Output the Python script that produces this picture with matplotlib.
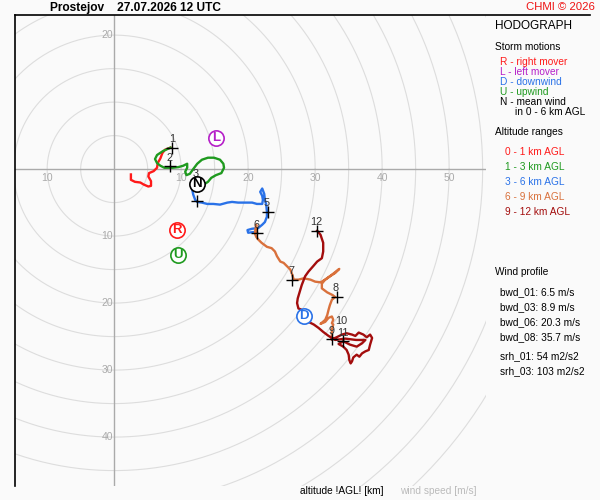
import numpy as np
import matplotlib
matplotlib.use('Agg')
import matplotlib.pyplot as plt
from matplotlib.lines import Line2D

plt.rcParams['font.family'] = ['Liberation Sans', 'DejaVu Sans']

# hodograph traces, u / v in m/s (v negative = down on the chart)
red_u = [2.5, 2.5, 3.1, 3.9, 4.4, 5.1, 5.5, 5.5, 5.1, 5.2, 5.9, 6.4, 6.5, 6.9, 7.2, 7.6, 8.4]
red_v = [-0.8, -1.6, -1.9, -2.0, -2.3, -2.6, -2.5, -1.8, -1.1, -0.6, -0.3, 0.2, 0.9, 1.6, 2.4, 2.9, 3.2]

green_u = [8.4, 7.3, 6.4, 6.1, 6.4, 6.9, 7.5, 8.7, 9.6, 10.3, 10.9, 10.9, 10.6, 10.8, 11.3, 11.8,
           12.4, 13.1, 14.0, 14.9, 15.8, 16.3, 16.4, 16.0, 15.2, 14.5, 14.0, 13.4, 12.5]
green_v = [3.2, 2.7, 2.1, 1.5, 0.9, 0.5, 0.2, 0.2, 0.3, 0.5, 0.8, 0.2, -0.4, -0.9, -0.7, 0.0,
           0.8, 1.4, 1.7, 1.7, 1.4, 0.8, 0.2, -0.6, -0.9, -1.3, -1.9, -2.3, -2.3]

blue_u = [12.5, 12.2, 11.6, 11.8, 12.1, 12.4, 13.1, 13.9, 14.8, 15.8, 16.9, 17.6, 18.5, 19.6, 20.6,
          21.3, 22.1, 22.2, 22.1, 21.8, 22.1, 22.4, 22.5, 22.7, 22.8, 22.8, 22.5, 22.1, 21.5, 20.6,
          19.9, 20.0, 20.8, 21.3]
blue_v = [-2.3, -2.3, -2.8, -3.8, -4.6, -4.9, -5.0, -5.2, -5.2, -5.3, -5.0, -4.9, -5.0, -5.0, -5.0,
          -5.2, -5.2, -4.6, -4.0, -3.4, -2.9, -3.7, -4.6, -5.3, -6.4, -7.1, -7.9, -8.3, -8.8, -8.9,
          -9.1, -9.5, -9.4, -9.5]

orange_u = [21.3, 21.2, 21.0, 21.2, 21.5, 22.0, 22.8, 23.5, 24.0, 24.3, 24.8, 25.3, 25.8, 26.3,
            26.6, 26.8, 27.5, 28.3, 29.3, 30.0, 30.8, 31.5, 32.2, 33.0, 33.6, 32.2, 31.5, 31.0,
            31.0, 31.8, 32.6, 33.0, 32.5, 32.2, 32.0, 31.8, 31.5, 30.8, 31.5, 32.0, 32.5, 32.7,
            32.5, 32.7, 32.5, 32.5]
orange_v = [-9.5, -8.3, -9.6, -10.1, -10.5, -11.0, -11.6, -11.8, -12.3, -13.0, -13.8, -14.0,
            -14.5, -15.0, -15.8, -16.5, -16.5, -16.3, -16.5, -16.8, -16.9, -16.5, -16.0, -15.5,
            -14.9, -16.0, -16.5, -17.1, -17.8, -18.4, -18.8, -19.1, -19.5, -20.3, -21.0, -21.8,
            -22.5, -23.1, -22.8, -22.2, -22.0, -22.5, -23.0, -23.2, -24.0, -25.4]

dred_u = [32.5, 33.2, 34.0, 34.7, 35.5, 36.0, 36.5, 37.2, 37.7, 38.2, 38.5, 38.2, 38.0, 37.5,
          37.0, 36.6, 36.2, 35.7, 35.5, 35.3, 35.1, 35.0, 34.7, 34.2, 33.5, 34.2, 35.2, 36.2,
          37.0, 37.5, 36.1, 34.5, 33.0, 32.0, 31.2, 30.5, 29.8, 29.0, 28.3, 28.0, 27.5, 27.3,
          27.4, 27.7, 28.0, 28.5, 29.0, 29.7, 30.3, 31.0, 31.2, 31.2, 30.8, 30.3]
dred_v = [-25.4, -25.1, -24.7, -24.5, -24.7, -24.9, -24.4, -24.7, -25.1, -24.7, -25.2, -26.2,
          -27.0, -27.2, -27.5, -28.0, -27.7, -28.1, -28.7, -29.0, -28.5, -27.7, -27.0, -26.5,
          -26.1, -25.7, -26.2, -26.5, -26.0, -25.5, -25.5, -25.3, -25.5, -24.9, -24.3, -23.7,
          -23.2, -22.8, -22.0, -21.0, -20.8, -20.0, -19.3, -18.3, -17.3, -16.0, -15.3, -14.5,
          -13.8, -13.3, -12.3, -11.0, -9.8, -9.2]

# height marks (km)
mark_txt = ['1', '2', '3', '', '5', '6', '7', '8', '9', '10', '11', '12']
mark_u = [8.7, 8.4, 12.2, 12.4, 22.9, 21.3, 26.6, 33.2, 32.5, 34.0, 34.2, 30.3]
mark_v = [3.2, 0.4, -2.0, -4.7, -6.4, -9.6, -16.5, -19.1, -25.4, -23.9, -25.7, -9.2]
cross_on = [1, 1, 1, 1, 1, 1, 1, 1, 1, 0, 1, 1]

# storm motions
storm_txt = ['R', 'U', 'L', 'D', 'N']
storm_u = [9.4, 9.5, 15.2, 28.3, 12.3]
storm_v = [-9.1, -12.8, 4.6, -22.0, -2.2]
storm_col = ['#ff1a1a', '#1f9a1f', '#b51fc8', '#2a72e8', '#000000']

ring_labels_x = [-10, 10, 20, 30, 40, 50]
ring_labels_y = [20, -10, -20, -30, -40]

legend_txt = ['0 - 1 km AGL', '1 - 3 km AGL', '3 - 6 km AGL', '6 - 9 km AGL', '9 - 12 km AGL']
legend_col = ['#ff1a1a', '#1f9a1f', '#2a72e8', '#d9713c', '#a30d0d']
profile_txt = ['bwd_01: 6.5 m/s', 'bwd_03: 8.9 m/s', 'bwd_06: 20.3 m/s', 'bwd_08: 35.7 m/s']
srh_txt = ['srh_01: 54 m2/s2', 'srh_03: 103 m2/s2']

bg = '#fafafa'
fig = plt.figure(figsize=(6, 5), dpi=100, facecolor=bg)
ax = fig.add_axes([15 / 600, 14 / 500, 471 / 600, 471 / 500])
ax.set_facecolor(bg)
ax.set_xlim(-14.8, 55.5)
ax.set_ylim(-47.3, 23.0)
ax.set_xticks([])
ax.set_yticks([])
for s in ['right', 'bottom', 'top']:
    ax.spines[s].set_visible(False)
ax.spines['left'].set_color('black')
ax.spines['left'].set_linewidth(1.2)

t = np.linspace(0, 2 * np.pi, 400)
for r in range(5, 70, 5):
    ax.plot(r * np.cos(t), r * np.sin(t), color='#dddddd', lw=0.8, zorder=1)
ax.axhline(0, color='#aaaaaa', lw=1, zorder=2)
ax.axvline(0, color='#aaaaaa', lw=1, zorder=2)

for r in ring_labels_x:
    ax.annotate(str(abs(r)), (r, 0), xytext=(0, -6.5), textcoords='offset points',
                ha='center', va='center', color='#aaaaaa', fontsize=7.5, zorder=3)
for r in ring_labels_y:
    ax.annotate(str(abs(r)), (0, r), xytext=(-1, 0), textcoords='offset points',
                ha='right', va='center', color='#aaaaaa', fontsize=7.5, zorder=3)

lw = 1.7
ax.plot(red_u, red_v, color=legend_col[0], lw=lw, zorder=4)
ax.plot(green_u, green_v, color=legend_col[1], lw=lw, zorder=4)
ax.plot(blue_u, blue_v, color=legend_col[2], lw=lw, zorder=4)
ax.plot(orange_u, orange_v, color=legend_col[3], lw=lw, zorder=4)
ax.plot(dred_u, dred_v, color=legend_col[4], lw=lw, zorder=4)

for txt, u, v, c in zip(mark_txt, mark_u, mark_v, cross_on):
    if c:
        ax.plot(u, v, '+', color='black', ms=8, mew=1, zorder=5)
    if txt:
        ax.annotate(txt, (u, v), xytext=(-0.5, 6.2), textcoords='offset points',
                    ha='center', va='center', color='#333333', fontsize=7.8, zorder=6)

for txt, u, v, c in zip(storm_txt, storm_u, storm_v, storm_col):
    ax.plot(u, v, 'o', ms=11, mfc='white', mec=c, mew=1.2, zorder=7)
    ax.text(u, v, txt, ha='center', va='center', color=c, fontsize=9.5,
            fontweight='bold', zorder=8)

fig.add_artist(Line2D([15 / 600, 590 / 600], [1 - 15 / 500] * 2, color='black', lw=1.2))


def ftext(x, y, s, **kw):
    fig.text(x / 600, 1 - y / 500, s, va='center', **kw)


ftext(50, 8, 'Prostejov    27.07.2026 12 UTC', fontsize=8.6, fontweight='bold')
ftext(595, 7, 'CHMI \u00a9 2026', fontsize=8.2, color='#ee1111', ha='right')
ftext(495, 26, 'HODOGRAPH', fontsize=8.5)
ftext(495, 47, 'Storm motions', fontsize=7.3)
motion_lines = ['R - right mover', 'L - left mover', 'D - downwind', 'U - upwind', 'N - mean wind']
motion_cols = ['#ff1a1a', '#b51fc8', '#2a72e8', '#1f9a1f', '#000000']
for i, (s, c) in enumerate(zip(motion_lines, motion_cols)):
    ftext(500, 62 + 10 * i, s, fontsize=7.3, color=c)
ftext(515, 112, 'in 0 - 6 km AGL', fontsize=7.3)
ftext(495, 132, 'Altitude ranges', fontsize=7.3)
for i, (s, c) in enumerate(zip(legend_txt, legend_col)):
    ftext(505, 152 + 15 * i, s, fontsize=7.3, color=c)
ftext(495, 272, 'Wind profile', fontsize=7.3)
for i, s in enumerate(profile_txt):
    ftext(500, 292 + 15 * i, s, fontsize=7.3)
for i, s in enumerate(srh_txt):
    ftext(500, 356 + 15.5 * i, s, fontsize=7.3)
ftext(300, 491, 'altitude !AGL! [km]', fontsize=7.3)
ftext(400, 491, 'wind speed [m/s]', fontsize=7.3, color='#bbbbbb')

fig.savefig('out.png', dpi=100, facecolor=bg)
